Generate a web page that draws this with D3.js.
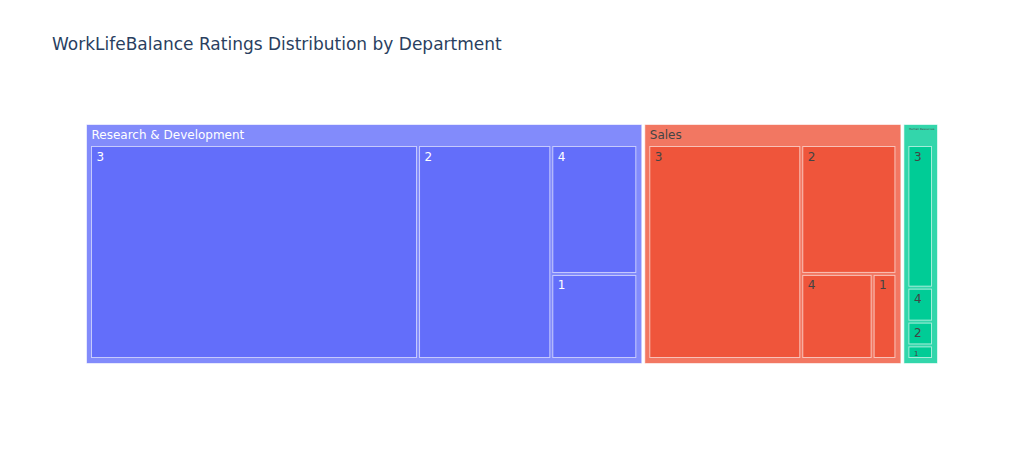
<!DOCTYPE html>
<html>
<head>
<meta charset="utf-8">
<script src="https://cdn.jsdelivr.net/npm/d3@7"></script>
<style>
  body { margin: 0; background: #fff; }
  text { font-family: "DejaVu Sans", verdana, arial, sans-serif; }
</style>
</head>
<body>
<div id="chart"></div>
<script>
// departments and their WorkLifeBalance rating counts
const departments = ["Research & Development", "Sales", "Human Resources"];
const ratings = ["3", "2", "4", "1"];
const rdCounts = [576, 234, 91, 60];
const salesCounts = [275, 103, 51, 17];
const hrCounts = [42, 7, 10, 4];
const deptColors = ["#636efa", "#EF553B", "#00cc96"];
const deptTextColors = ["#fff", "#444", "#444"];

const width = 1024;
const height = 450;

const svg = d3.select("#chart")
  .append("svg")
  .attr("width", width)
  .attr("height", height);

svg.append("text")
  .attr("x", 52)
  .attr("y", 50)
  .attr("font-size", 17)
  .attr("fill", "#2a3f5f")
  .text("WorkLifeBalance Ratings Distribution by Department");

const allCounts = [rdCounts, salesCounts, hrCounts];
const data = {
  name: "root",
  children: departments.map((d, i) => ({
    name: d,
    idx: i,
    children: ratings.map((r, j) => ({ name: r, idx: i, value: allCounts[i][j] }))
  }))
};

const root = d3.hierarchy(data)
  .sum(d => d.value || 0)
  .sort((a, b) => b.value - a.value);

d3.treemap()
  .tile(d3.treemapSquarify.ratio(1))
  .size([851, 239])
  .paddingInner(3)
  .paddingTop(d => d.depth === 1 ? 22 : 0)
  .paddingLeft(d => d.depth === 1 ? 5 : 0)
  .paddingRight(d => d.depth === 1 ? 6 : 0)
  .paddingBottom(d => d.depth === 1 ? 6 : 0)
  (root);

const g = svg.append("g").attr("transform", "translate(86.5,124.5)");

// fade header colours towards the background
const fade = c => d3.interpolateRgb(c, "#fff")(0.2);

const nodes = root.descendants().filter(d => d.depth > 0);

const cell = g.selectAll(".cell")
  .data(nodes)
  .enter()
  .append("g")
  .attr("class", "cell");

cell.append("rect")
  .attr("x", d => d.x0)
  .attr("y", d => d.y0)
  .attr("width", d => d.x1 - d.x0)
  .attr("height", d => d.y1 - d.y0)
  .attr("fill", d => d.depth === 1 ? fade(deptColors[d.data.idx]) : deptColors[d.data.idx])
  .attr("stroke", "#fff")
  .attr("stroke-opacity", d => d.depth === 1 ? 0.6 : 0.6)
  .attr("stroke-width", 1);

cell.append("text")
  .attr("x", d => d.x0 + 5)
  .attr("y", d => d.y0 + 14)
  .attr("font-size", 12)
  .attr("fill", d => deptTextColors[d.data.idx])
  .text(d => d.data.name)
  .each(function (d) {
    const w = d.x1 - d.x0 - 8;
    const h = d.y1 - d.y0 - 3;
    const tw = this.getComputedTextLength();
    let s = 1;
    if (tw > w) s = w / tw;
    if (d.depth === 2 && 13 > h) s = Math.min(s, h / 13);
    if (s < 1) {
      d3.select(this)
        .attr("font-size", 12 * s)
        .attr("y", d.y0 + 3 + 11 * s);
    }
  });
</script>
</body>
</html>
